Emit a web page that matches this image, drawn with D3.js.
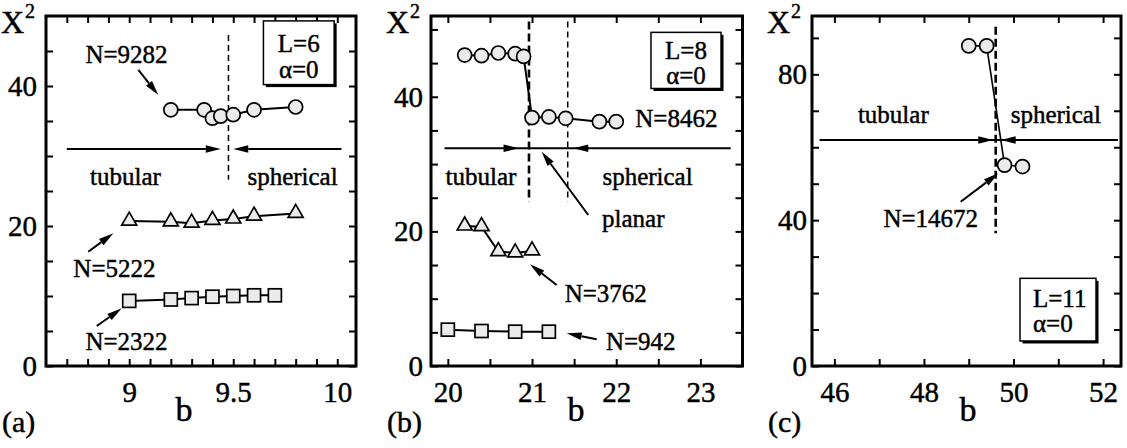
<!DOCTYPE html>
<html><head><meta charset="utf-8">
<script src="https://cdn.jsdelivr.net/npm/d3@7"></script>
<style>
body{margin:0;background:#fff;}
svg{display:block;font-family:"Liberation Serif","Times New Roman",serif;}
svg text{stroke:#000;stroke-width:0.45px;}
</style></head><body>
<svg id="chart" width="1127" height="448"></svg>
<script>
// ================= DATA =================
// Panel (a): L=6, alpha=0
const aCircleB  = [9.2, 9.36, 9.4, 9.44, 9.5, 9.6, 9.8];          // N=9282
const aCircleX2 = [36.6, 36.6, 35.4, 35.7, 35.9, 36.6, 37.0];
const aTriB     = [9.0, 9.2, 9.3, 9.4, 9.5, 9.6, 9.8];            // N=5222
const aTriX2    = [20.7, 20.6, 20.4, 20.8, 21.0, 21.4, 21.8];
const aSqB      = [9.0, 9.2, 9.3, 9.4, 9.5, 9.6, 9.7];            // N=2322
const aSqX2     = [9.3, 9.5, 9.7, 9.9, 10.0, 10.1, 10.1];
// Panel (b): L=8, alpha=0
const bCircleB  = [20.2, 20.4, 20.6, 20.8, 20.9, 21.0, 21.2, 21.4, 21.8, 22.0]; // N=8462
const bCircleX2 = [46.2, 46.1, 46.5, 46.4, 46.0, 36.9, 37.0, 36.8, 36.3, 36.3];
const bTriB     = [20.2, 20.4, 20.6, 20.8, 21.0];                 // N=3762
const bTriX2    = [20.8, 20.7, 17.0, 16.8, 17.1];
const bSqB      = [20.0, 20.4, 20.8, 21.2];                       // N=942
const bSqX2     = [5.4, 5.2, 5.1, 5.1];
// Panel (c): L=11, alpha=0
const cCircleB  = [49.0, 49.4, 49.8, 50.2];                       // N=14672
const cCircleX2 = [87.8, 87.8, 55.1, 54.7];

// Tick labels
const aXLabels = ["9", "9.5", "10"];
const aYLabels = ["0", "20", "40"];
const bXLabels = ["20", "21", "22", "23"];
const bYLabels = ["0", "20", "40"];
const cXLabels = ["46", "48", "50", "52"];
const cYLabels = ["0", "40", "80"];

// Text labels
const panelNames = ["(a)", "(b)", "(c)"];
const legendL = ["L=6", "L=8", "L=11"];
const legendAlpha = "\u03b1=0";

// ================= DRAWING =================
const svg = d3.select("#chart");
const TOP = 16, BOTTOM = 366;
const FILL = "#ebebeb";

function zip(xs, ys){ return xs.map((x,i)=>({x, y: ys[i]})); }
function near(a,b){ return Math.abs(a-b) < 1e-6; }
function rangeStep(a,b,s){ const out=[]; for(let v=a; v<=b+1e-9; v+=s) out.push(Math.round(v*1000)/1000); return out; }

function makePanel(opt){
  const x = d3.scaleLinear().domain(opt.xDomain).range(opt.xRange);
  const y = d3.scaleLinear().domain(opt.yDomain).range([BOTTOM, TOP]);
  const g = svg.append("g");
  const xLab = opt.xLabels.map(Number), yLab = opt.yLabels.map(Number);
  const fx = d => { const i = xLab.findIndex(v=>near(v,d)); return i>=0 ? opt.xLabels[i] : ""; };
  const fy = d => { const i = yLab.findIndex(v=>near(v,d)); return i>=0 ? opt.yLabels[i] : ""; };

  const styleAxis = sel => {
    sel.attr("font-family",null);
    sel.select(".domain").remove();
    sel.selectAll(".tick line").attr("stroke","#000").attr("stroke-width",2);
    sel.selectAll(".tick text").attr("font-size",29).attr("fill","#000");
  };
  g.append("g").attr("transform",`translate(0,${BOTTOM})`)
    .call(d3.axisBottom(x).tickValues(opt.xTicks).tickSize(-7).tickPadding(15).tickFormat(fx)).call(styleAxis);
  g.append("g").attr("transform",`translate(0,${TOP})`)
    .call(d3.axisTop(x).tickValues(opt.xTicks).tickSize(-7).tickFormat("")).call(styleAxis);
  g.append("g").attr("transform",`translate(${opt.xRange[0]},0)`)
    .call(d3.axisLeft(y).tickValues(opt.yTicks).tickSize(-7).tickPadding(opt.yPad).tickFormat(fy)).call(styleAxis);
  g.append("g").attr("transform",`translate(${opt.xRange[1]},0)`)
    .call(d3.axisRight(y).tickValues(opt.yTicks).tickSize(-7).tickFormat("")).call(styleAxis);

  // frame
  g.append("rect").attr("x",opt.xRange[0]).attr("y",TOP)
    .attr("width",opt.xRange[1]-opt.xRange[0]).attr("height",BOTTOM-TOP)
    .attr("fill","none").attr("stroke","#000").attr("stroke-width",3);

  // axis titles
  const xt = g.append("text").attr("x",opt.xRange[0]-45).attr("y",33).attr("font-size",32).attr("fill","#000");
  xt.append("tspan").text("X");
  xt.append("tspan").attr("dx",1).attr("dy",-15).attr("font-size",20).text("2");
  g.append("text").attr("x",opt.bX).attr("y",421).attr("font-size",34).attr("text-anchor","middle").text("b");
  g.append("text").attr("x",opt.xRange[0]-44).attr("y",432).attr("font-size",30).text(opt.name);
  return {g, x, y};
}

function line(g, x, y, pts, w=2){
  g.append("path").datum(pts)
    .attr("d", d3.line().x(d=>x(d.x)).y(d=>y(d.y)))
    .attr("fill","none").attr("stroke","#000").attr("stroke-width",w);
}
function circles(g, x, y, pts){
  g.selectAll(null).data(pts).enter().append("circle")
    .attr("cx",d=>x(d.x)).attr("cy",d=>y(d.y)).attr("r",7)
    .attr("fill",FILL).attr("stroke","#000").attr("stroke-width",1.7);
}
function triangles(g, x, y, pts){
  g.selectAll(null).data(pts).enter().append("path")
    .attr("transform",d=>`translate(${x(d.x)},${y(d.y)})`)
    .attr("d","M0,-9L7.5,4L-7.5,4Z")
    .attr("fill",FILL).attr("stroke","#000").attr("stroke-width",1.7);
}
function squares(g, x, y, pts){
  g.selectAll(null).data(pts).enter().append("rect")
    .attr("x",d=>x(d.x)-6.5).attr("y",d=>y(d.y)-6.5).attr("width",13).attr("height",13)
    .attr("fill",FILL).attr("stroke","#000").attr("stroke-width",1.7);
}
function head(g, x1,y1,x2,y2, len=15, w=3.8){
  const dx=x2-x1, dy=y2-y1, L=Math.hypot(dx,dy), ux=dx/L, uy=dy/L;
  const bx=x2-ux*len, by=y2-uy*len;
  g.append("path").attr("d",`M${x2},${y2}L${bx-uy*w},${by+ux*w}L${bx+uy*w},${by-ux*w}Z`).attr("fill","#000");
  return [bx,by];
}
function arrow(g, x1,y1,x2,y2, sw=2){
  const [bx,by] = head(g,x1,y1,x2,y2);
  g.append("line").attr("x1",x1).attr("y1",y1).attr("x2",bx).attr("y2",by)
    .attr("stroke","#000").attr("stroke-width",sw);
}
function dashed(g, xp, y1, y2, w, dash){
  g.append("line").attr("x1",xp).attr("x2",xp).attr("y1",y1).attr("y2",y2)
    .attr("stroke","#000").attr("stroke-width",w).attr("stroke-dasharray",dash);
}
function label(g, xp, yp, txt, size=25, anchor="middle"){
  g.append("text").attr("x",xp).attr("y",yp).attr("font-size",size)
    .attr("text-anchor",anchor).attr("fill","#000").text(txt);
}
function legend(g, x0, y0, w, h, l1, l2, tx, ty1, ty2, anchor){
  g.append("rect").attr("x",x0+2.5).attr("y",y0+2.5).attr("width",w).attr("height",h).attr("fill","#000");
  g.append("rect").attr("x",x0).attr("y",y0).attr("width",w).attr("height",h)
    .attr("fill","#fff").attr("stroke","#000").attr("stroke-width",1.5);
  label(g, tx, ty1, l1, 25, anchor);
  label(g, tx, ty2, l2, 25, anchor);
}

// ----- Panel (a) -----
{
  const {g,x,y} = makePanel({
    name: panelNames[0], xDomain:[8.6,10.09], xRange:[46,356], yDomain:[0,50],
    xTicks: rangeStep(8.7,10.0,0.1), yTicks: rangeStep(0,45,5),
    xLabels: aXLabels, yLabels: aYLabels, yPad: 9, bX: 184
  });
  dashed(g, x(9.477), y(47.3), y(26.6), 1.5, "6,4");
  arrow(g, x(8.70), y(31), x(9.44), y(31));
  arrow(g, x(10.02), y(31), x(9.50), y(31));
  label(g, x(8.982), y(25.86), "tubular");
  label(g, x(9.785), y(25.86), "spherical");
  legend(g, x(9.645), y(49.3), x(9.985)-x(9.645), y(40.2)-y(49.3), legendL[0], legendAlpha,
         x(9.815), y(44.9), y(41.2), "middle");

  const sq = zip(aSqB,aSqX2), tr = zip(aTriB,aTriX2), ci = zip(aCircleB,aCircleX2);
  line(g,x,y,sq); line(g,x,y,tr); line(g,x,y,ci);
  squares(g,x,y,sq); triangles(g,x,y,tr); circles(g,x,y,ci);

  label(g, x(8.987), y(43.3), "N=9282");
  arrow(g, x(9.044), y(42.3), x(9.140), y(38.7));
  label(g, x(8.929), y(12.76), "N=5222");
  arrow(g, x(8.803), y(16.33), x(8.924), y(18.96));
  label(g, x(8.987), y(2.29), "N=2322");
  arrow(g, x(8.844), y(5.71), x(8.964), y(8.24));
}

// ----- Panel (b) -----
{
  const {g,x,y} = makePanel({
    name: panelNames[1], xDomain:[19.8,23.5], xRange:[431,742.5], yDomain:[0,52],
    xTicks: rangeStep(20,23.5,0.5), yTicks: rangeStep(0,50,5),
    xLabels: bXLabels, yLabels: bYLabels, yPad: 8, bX: 576
  });
  dashed(g, x(20.964), y(51.2), y(24.4), 2.6, "8,4");
  dashed(g, x(21.424), y(51.2), y(24.4), 1.5, "6,4");
  g.append("line").attr("x1",x(19.96)).attr("x2",x(23.36)).attr("y1",y(32.35)).attr("y2",y(32.35))
    .attr("stroke","#000").attr("stroke-width",2);
  head(g, x(20.5), y(32.35), x(20.84), y(32.35));
  head(g, x(21.9), y(32.35), x(21.49), y(32.35));
  label(g, x(20.393), y(26.89), "tubular");
  label(g, x(22.372), y(26.89), "spherical");
  label(g, x(22.203), y(20.70), "planar");
  arrow(g, x(21.668), y(22.43), x(21.115), y(31.84));
  legend(g, x(22.413), y(49.57), x(23.245)-x(22.413), y(41.23)-y(49.57), legendL[1], legendAlpha,
         x(22.829), y(45.6), y(41.9), "middle");

  const sq = zip(bSqB,bSqX2), tr = zip(bTriB,bTriX2), ci = zip(bCircleB,bCircleX2);
  line(g,x,y,sq); line(g,x,y,tr); line(g,x,y,ci);
  squares(g,x,y,sq); triangles(g,x,y,tr); circles(g,x,y,ci);

  label(g, x(22.714), y(35.46), "N=8462");
  label(g, x(21.876), y(9.55), "N=3762");
  arrow(g, x(21.293), y(12.03), x(20.976), y(15.11));
  label(g, x(22.292), y(2.38), "N=942");
  arrow(g, x(21.768), y(3.97), x(21.412), y(4.86));
}

// ----- Panel (c) -----
{
  const {g,x,y} = makePanel({
    name: panelNames[2], xDomain:[45.5,52.4], xRange:[812,1121], yDomain:[0,96],
    xTicks: rangeStep(46,52,1), yTicks: rangeStep(0,90,10),
    xLabels: cXLabels, yLabels: cYLabels, yPad: 5, bX: 968
  });
  dashed(g, x(49.602), y(93.06), y(36.4), 2.6, "8,4");
  g.append("line").attr("x1",x(45.67)).attr("x2",x(52.33)).attr("y1",y(62.0)).attr("y2",y(62.0))
    .attr("stroke","#000").attr("stroke-width",2);
  head(g, x(48.5), y(62.0), x(49.549), y(62.0));
  head(g, x(51), y(62.0), x(49.714), y(62.0));
  label(g, x(47.316), y(66.57), "tubular");
  label(g, x(50.944), y(66.57), "spherical");
  legend(g, x(50.145), y(24.05), x(51.842)-x(50.145), y(6.86)-y(24.05), legendL[2], legendAlpha,
         x(50.145)+13, y(16.3), y(9.4), "start");

  const ci = zip(cCircleB,cCircleX2);
  line(g,x,y,ci,1.6);
  circles(g,x,y,ci);
  label(g, x(48.153), y(38.2), "N=14672");
  arrow(g, x(48.82), y(45.06), x(49.66), y(52.85));
}
</script>
</body></html>
